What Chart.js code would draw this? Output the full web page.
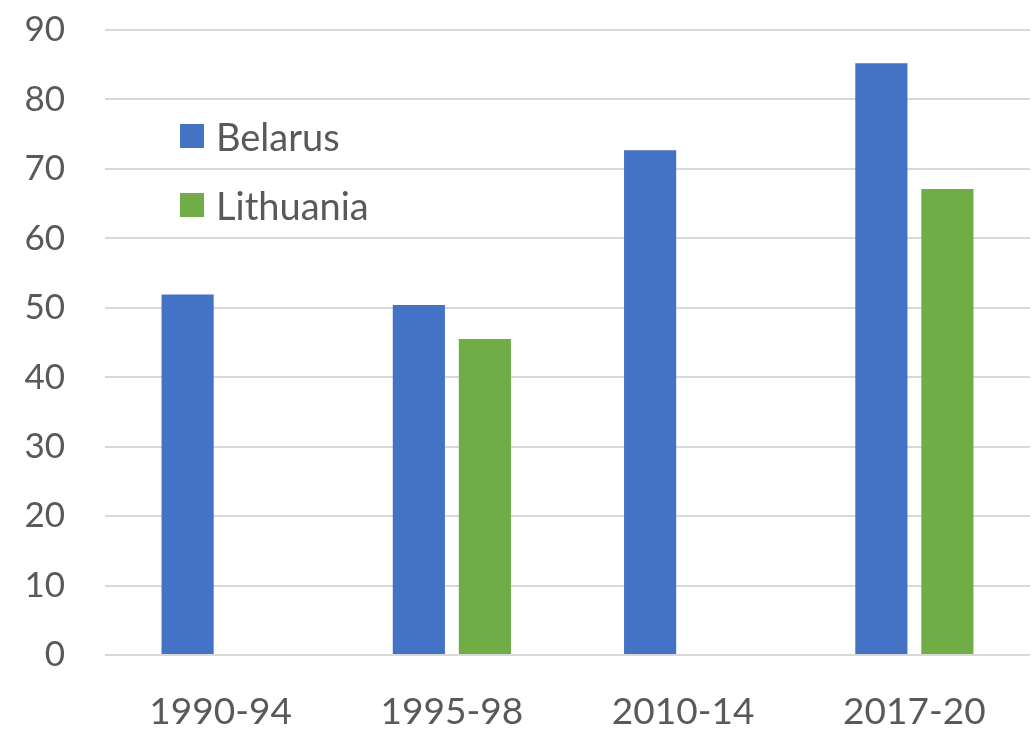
<!DOCTYPE html>
<html><head><meta charset="utf-8">
<script src="https://cdn.jsdelivr.net/npm/chart.js@4/dist/chart.umd.min.js"></script>
<style>
html,body{margin:0;padding:0;background:#fff;}
#wrap{position:relative;width:1035px;height:729px;}
#legend{position:absolute;left:180px;top:116px;font-family:Lato,sans-serif;font-size:38px;color:#595959;}
.li{display:flex;align-items:center;height:40px;margin-bottom:29px;}
.sw{width:24px;height:24px;margin-right:12px;}
</style></head>
<body><div id="wrap"><canvas id="c" width="1035" height="729"></canvas><div id="legend"></div></div>
<script>
const categories = ["1990-94", "1995-98", "2010-14", "2017-20"];
const belarus = [51.9, 50.4, 72.7, 85.2];
const lithuania = [null, 45.5, null, 67.1];
const seriesNames = ["Belarus", "Lithuania"];
const seriesColors = ["#4472C4", "#70AD47"];
const yTicks = [0, 10, 20, 30, 40, 50, 60, 70, 80, 90];

const font = "Lato";
const chart = new Chart(document.getElementById('c'), {
  type: 'bar',
  data: {
    labels: categories,
    datasets: [
      {label: seriesNames[0], data: belarus, backgroundColor: seriesColors[0]},
      {label: seriesNames[1], data: lithuania, backgroundColor: seriesColors[1]}
    ]
  },
  options: {
    responsive: false,
    animation: false,
    categoryPercentage: 0.571,
    barPercentage: 0.79,
    layout: {padding: {top: 30, right: 5, left: 0, bottom: 0}},
    plugins: {legend: {display: false}, tooltip: {enabled: false}},
    scales: {
      x: {
        grid: {display: false},
        border: {display: false},
        ticks: {color: '#595959', font: {family: font, size: 37}, padding: 27, maxRotation: 0},
        afterFit: s => { s.height = 74; s.paddingLeft = 0; s.paddingRight = 0; }
      },
      y: {
        min: 0, max: 90,
        afterBuildTicks: s => { s.ticks = yTicks.map(v => ({value: v})); },
        grid: {color: '#d9d9d9', lineWidth: 2, drawTicks: false},
        border: {display: false},
        ticks: {color: '#595959', font: {family: font, size: 35}, padding: 40},
        afterFit: s => { s.width = 105; s.paddingTop = 0; s.paddingBottom = 0; }
      }
    }
  }
});

const lg = document.getElementById('legend');
seriesNames.forEach((n, i) => {
  const d = document.createElement('div'); d.className = 'li';
  const sw = document.createElement('div'); sw.className = 'sw'; sw.style.background = seriesColors[i];
  const t = document.createElement('span'); t.textContent = n;
  d.appendChild(sw); d.appendChild(t); lg.appendChild(d);
});
</script></body></html>
